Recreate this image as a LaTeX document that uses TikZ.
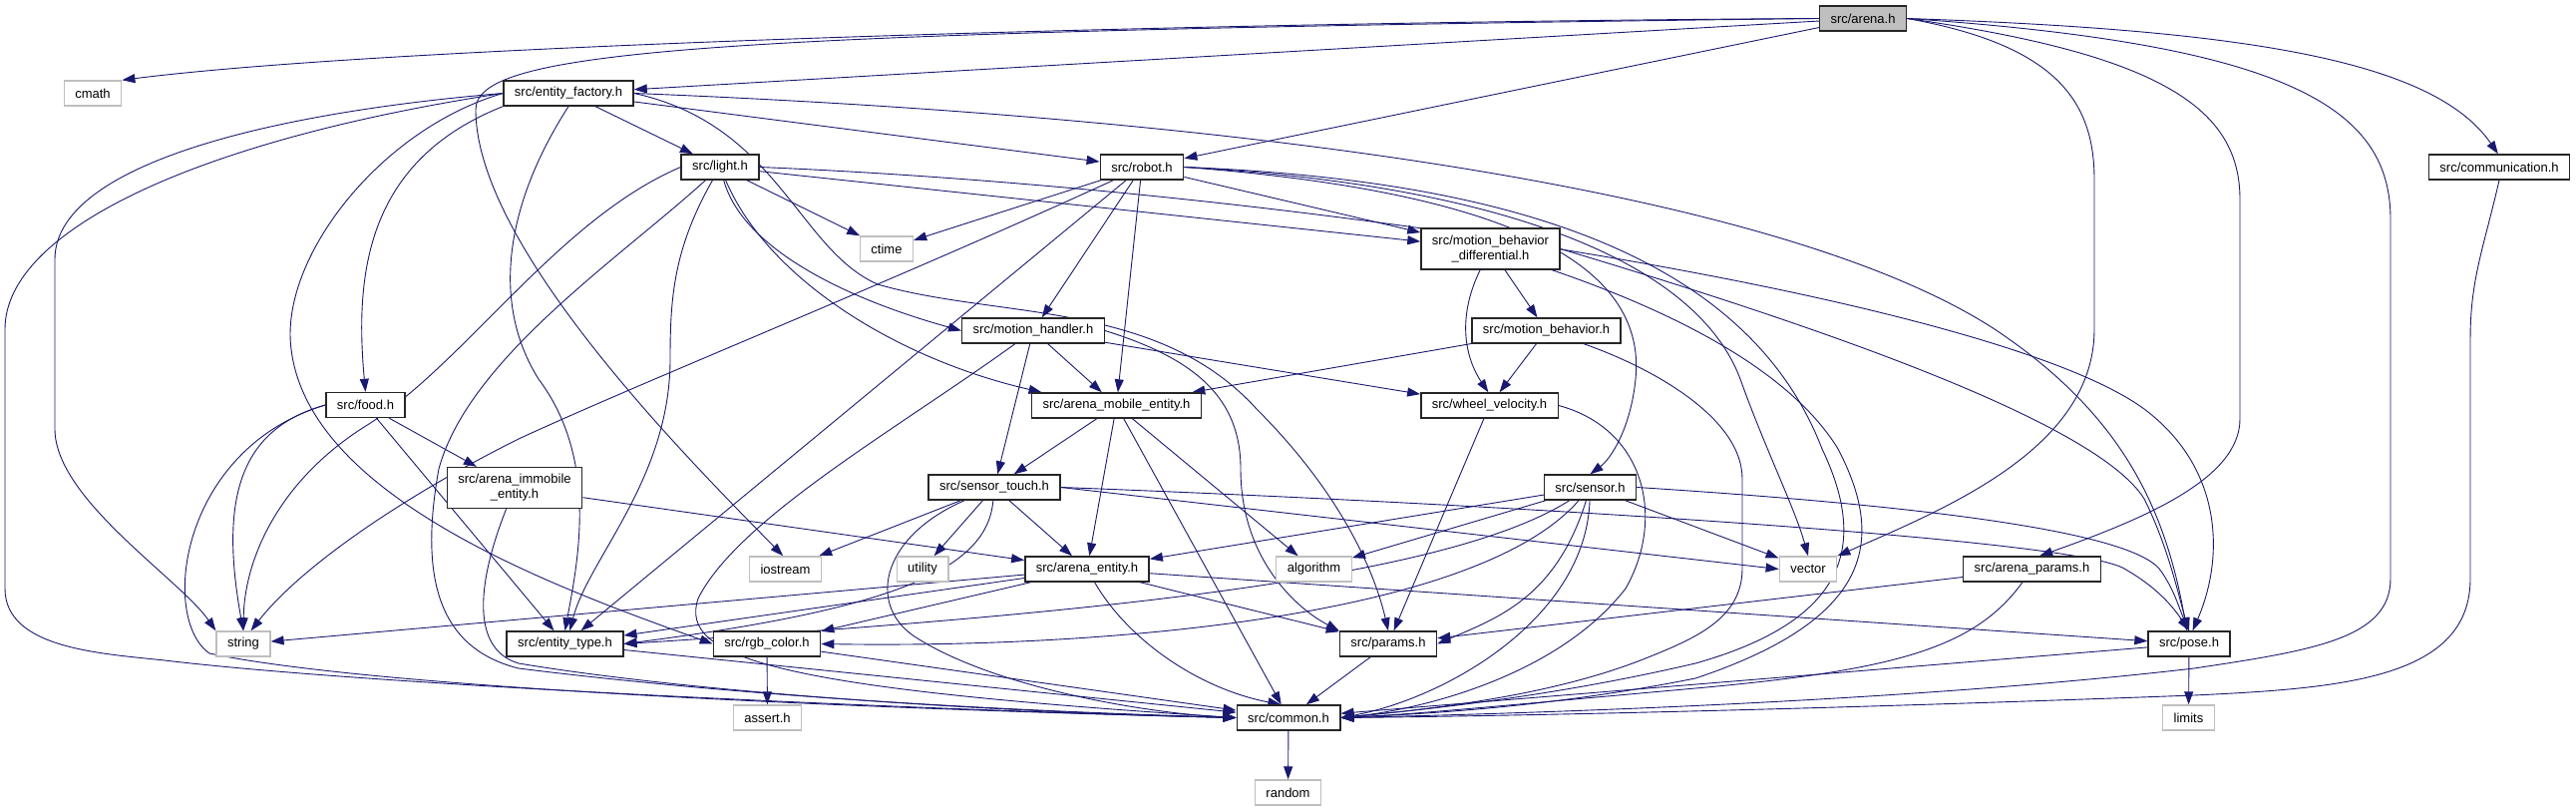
\documentclass[tikz,border=0pt]{standalone}
\usepackage{fontspec}
\setmainfont{Liberation Sans}
\usetikzlibrary{arrows.meta}
\definecolor{Edge}{RGB}{25,25,112}
\definecolor{Grey}{RGB}{191,191,191}
\pgfdeclarelayer{bg}
\pgfsetlayers{bg,main}

\begin{document}
\begin{tikzpicture}[x=1pt,y=-1pt,
 f/.style={draw=black!85,line width=1.4pt,fill=white,minimum height=25pt,inner xsep=11pt,inner ysep=3pt,align=center,font=\fontsize{13}{15}\selectfont},
 sys/.style={f,draw=Grey},
 two/.style={minimum height=41pt},
 a/.style={-{Triangle[length=13pt,width=9pt]},Edge,line width=.9pt}]
\useasboundingbox (0,0) rectangle (2583,813);
% files
\node[f,fill=Grey] (arena) at (1868,18.5) {src/arena.h};
\node[sys] (cmath) at (93,93.5) {cmath};
\node[f] (factory) at (570,93.5) {src/entity\_factory.h};
\node[f] (light) at (722,167.5) {src/light.h};
\node[f] (robot) at (1145,167.5) {src/robot.h};
\node[f] (comm) at (2506,167.5) {src/communication.h};
\node[sys] (ctime) at (889,249.5) {ctime};
\node[f,two] (mbd) at (1494.5,249.5) {src/motion\_behavior\\\_differential.h};
\node[f] (mhandler) at (1036,331.5) {src/motion\_handler.h};
\node[f] (mbeh) at (1550.5,331.5) {src/motion\_behavior.h};
\node[f] (food) at (366.5,406) {src/food.h};
\node[f] (mobile) at (1119.5,406.5) {src/arena\_mobile\_entity.h};
\node[f] (wheel) at (1493.5,406.5) {src/wheel\_velocity.h};
\node[f,two] (immobile) at (516,489) {src/arena\_immobile\\\_entity.h};
\node[f] (touch) at (997,488.5) {src/sensor\_touch.h};
\node[f] (sensor) at (1594.5,488.5) {src/sensor.h};
\node[sys] (iostream) at (787.5,570.5) {iostream};
\node[sys] (utility) at (925,570.5) {utility};
\node[f] (aentity) at (1090,570.5) {src/arena\_entity.h};
\node[sys] (algorithm) at (1317.5,570.5) {algorithm};
\node[sys] (vector) at (1813,570.5) {vector};
\node[f] (aparams) at (2037.5,570.5) {src/arena\_params.h};
\node[sys] (string) at (244,645.5) {string};
\node[f] (etype) at (566.5,645.5) {src/entity\_type.h};
\node[f] (rgb) at (769,645.5) {src/rgb\_color.h};
\node[f] (params) at (1392,645.5) {src/params.h};
\node[f] (pose) at (2195,645.5) {src/pose.h};
\node[sys] (assert) at (769.5,719.5) {assert.h};
\node[f] (common) at (1292,719.5) {src/common.h};
\node[sys] (limits) at (2194.5,719.5) {limits};
\node[sys] (random) at (1291.5,794.5) {random};
\begin{pgfonlayer}{bg}
% arena.h
\draw[a] (arena.west) .. controls (1200,22) and (400,45) .. (cmath.north east);
\draw[a] (arena.west) .. controls (700,32) and (477,50) .. (477,110) .. controls (477,250) and (700,470) .. (iostream.100);
\draw[a] (arena) -- (factory);
\draw[a] (arena) -- (robot);
\draw[a] (arena.east) .. controls (2060,45) and (2100,100) .. (2100,180) -- (2100,330) .. controls (2100,450) and (1950,510) .. (vector.north east);
\draw[a] (arena.east) .. controls (2170,55) and (2246,110) .. (2246,200) -- (2246,420) .. controls (2246,480) and (2150,520) .. (aparams.60);
\draw[a] (arena.east) .. controls (2300,45) and (2397,110) .. (2397,220) -- (2397,580) .. controls (2397,640) and (2320,652) .. (2200,670) .. controls (1900,705) and (1500,716) .. (common.east);
\draw[a] (arena.east) .. controls (2250,30) and (2440,60) .. (comm.95);
\draw[a] (comm.south) .. controls (2490,250) and (2477,280) .. (2477,340) -- (2477,580) .. controls (2477,680) and (2350,690) .. (2200,697) .. controls (1800,712) and (1500,718) .. (common.east);
% entity_factory.h
\draw[a] (factory.west) .. controls (250,115) and (55,170) .. (55,260) -- (55,430) .. controls (55,500) and (180,580) .. (string.north west);
\draw[a] (factory.west) .. controls (200,140) and (5,230) .. (5,330) -- (5,590) .. controls (5,650) and (100,655) .. (165,662) .. controls (400,690) and (1000,714) .. (common.west);
\draw[a] (factory.west) .. controls (380,130) and (280,260) .. (292,350) .. controls (310,500) and (560,590) .. (rgb.west);
\draw[a] (factory.south west) .. controls (370,160) and (355,270) .. (food.north);
\draw[a] (factory.south) .. controls (510,200) and (490,300) .. (540,380) .. controls (600,460) and (580,560) .. (etype.north);
\draw[a] (factory) -- (light);
\draw[a] (factory) -- (robot);
\draw[a] (factory.east) .. controls (1300,120) and (1800,200) .. (2000,330) .. controls (2120,410) and (2170,500) .. (pose.100);
\draw[a] (factory.east) .. controls (780,125) and (800,250) .. (880,285) .. controls (1000,320) and (1160,300) .. (1260,410) .. controls (1350,500) and (1380,580) .. (params.north);
% light.h
\draw[a] (light.west) .. controls (560,220) and (470,360) .. (370,425) .. controls (280,480) and (245,560) .. (string.north);
\draw[a] (light) .. controls (620,260) and (470,360) .. (440,470) .. controls (420,580) and (440,650) .. (520,670) .. controls (800,705) and (1100,715) .. (common.west);
\draw[a] (light) .. controls (675,250) and (672,300) .. (672,360) .. controls (672,480) and (590,560) .. (etype.70);
\draw[a] (light) -- (ctime);
\draw[a] (light) .. controls (745,250) and (850,300) .. (mhandler.west);
\draw[a] (light) .. controls (770,280) and (900,360) .. (mobile.170);
\draw[a] (light) -- (mbd);
\draw[a] (light.east) .. controls (1300,190) and (2000,300) .. (2150,410) .. controls (2230,470) and (2230,560) .. (pose.75);
% robot.h
\draw[a] (robot) -- (ctime);
\draw[a] (robot) .. controls (900,280) and (650,380) .. (520,440) .. controls (400,500) and (300,570) .. (string.60);
\draw[a] (robot) -- (etype);
\draw[a] (robot) -- (mhandler);
\draw[a] (robot) -- (mobile);
\draw[a] (robot) -- (mbd);
\draw[a] (robot.east) .. controls (1550,195) and (1650,280) .. (1640,380) .. controls (1635,430) and (1615,460) .. (sensor.north);
\draw[a] (robot.east) .. controls (1500,185) and (1700,260) .. (1745,380) .. controls (1770,450) and (1800,510) .. (vector.north);
\draw[a] (robot.east) .. controls (1500,180) and (1750,250) .. (1827,450) .. controls (1870,540) and (1860,620) .. (1700,665) .. controls (1550,700) and (1420,712) .. (common.east);
% motion_behavior_differential.h
\draw[a] (mbd) .. controls (1460,320) and (1470,360) .. (wheel.95);
\draw[a] (mbd) -- (mbeh);
\draw[a] (mbd.east) .. controls (1800,320) and (2100,420) .. (2150,500) .. controls (2175,550) and (2185,600) .. (pose.north);
\draw[a] (mbd) .. controls (1700,320) and (1800,380) .. (1843,450) .. controls (1890,540) and (1880,620) .. (1700,680) .. controls (1550,710) and (1420,716) .. (common.east);
% motion_behavior.h
\draw[a] (mbeh) -- (mobile);
\draw[a] (mbeh) -- (wheel);
\draw[a] (mbeh) .. controls (1660,370) and (1747,420) .. (1747,480) -- (1747,570) .. controls (1747,620) and (1700,640) .. (1650,660) .. controls (1550,700) and (1420,712) .. (common.east);
% motion_handler.h
\draw[a] (mhandler) -- (mobile);
\draw[a] (mhandler) -- (wheel);
\draw[a] (mhandler.east) .. controls (1200,360) and (1244,400) .. (1244,470) .. controls (1244,560) and (1300,610) .. (params.north west);
\draw[a] (mhandler) -- (touch);
\draw[a] (mhandler) .. controls (900,430) and (740,520) .. (700,600) .. controls (680,660) and (780,690) .. (common.west);
% arena_mobile_entity.h
\draw[a] (mobile) -- (touch);
\draw[a] (mobile) -- (aentity);
\draw[a] (mobile) -- (common);
\draw[a] (mobile) -- (algorithm);
% wheel_velocity.h
\draw[a] (wheel) -- (params);
\draw[a] (wheel.east) .. controls (1650,430) and (1670,520) .. (1630,590) .. controls (1560,680) and (1420,712) .. (common.east);
% sensor_touch.h
\draw[a] (touch) -- (utility);
\draw[a] (touch) -- (aentity);
\draw[a] (touch) .. controls (990,570) and (900,610) .. (etype.east);
\draw[a] (touch) -- (iostream);
\draw[a] (touch) .. controls (880,540) and (870,610) .. (920,640) .. controls (1000,690) and (1150,715) .. (common.west);
\draw[a] (touch.east) -- (vector.west);
\draw[a] (touch.east) .. controls (1500,505) and (2080,540) .. (2130,570) .. controls (2165,590) and (2180,610) .. (pose.north);
% sensor.h
\draw[a] (sensor) -- (aentity);
\draw[a] (sensor) -- (algorithm);
\draw[a] (sensor) .. controls (1450,580) and (1100,615) .. (etype.east);
\draw[a] (sensor) .. controls (1480,620) and (1100,650) .. (rgb.east);
\draw[a] (sensor) .. controls (1560,600) and (1500,620) .. (params.east);
\draw[a] (sensor) .. controls (1590,620) and (1450,700) .. (common.east);
\draw[a] (sensor) -- (vector);
\draw[a] (sensor.east) .. controls (1900,505) and (2130,530) .. (2165,570) .. controls (2180,590) and (2185,610) .. (pose.north);
% arena_entity.h
\draw[a] (aentity) -- (string);
\draw[a] (aentity) -- (etype);
\draw[a] (aentity) -- (rgb);
\draw[a] (aentity) .. controls (1130,640) and (1200,690) .. (common.120);
\draw[a] (aentity) -- (params);
\draw[a] (aentity) -- (pose);
% food.h
\draw[a] (food.west) .. controls (240,430) and (220,500) .. (string.north);
\draw[a] (food.west) .. controls (180,450) and (160,620) .. (210,655) .. controls (400,695) and (1000,714) .. (common.west);
\draw[a] (food) -- (etype);
\draw[a] (food) -- (immobile);
% arena_immobile_entity.h
\draw[a] (immobile) .. controls (480,580) and (470,650) .. (520,665) .. controls (700,695) and (1000,714) .. (common.west);
\draw[a] (immobile) -- (aentity);
% leaves
\draw[a] (etype) -- (common);
\draw[a] (rgb) -- (assert);
\draw[a] (rgb) -- (common);
\draw[a] (params) -- (common);
\draw[a] (pose) -- (limits);
\draw[a] (pose) -- (common);
\draw[a] (aparams) -- (params);
\draw[a] (aparams) .. controls (1980,650) and (1900,672) .. (1700,690) .. controls (1500,708) and (1420,716) .. (common.east);
\draw[a] (common) -- (random);
\end{pgfonlayer}
\end{tikzpicture}
\end{document}
